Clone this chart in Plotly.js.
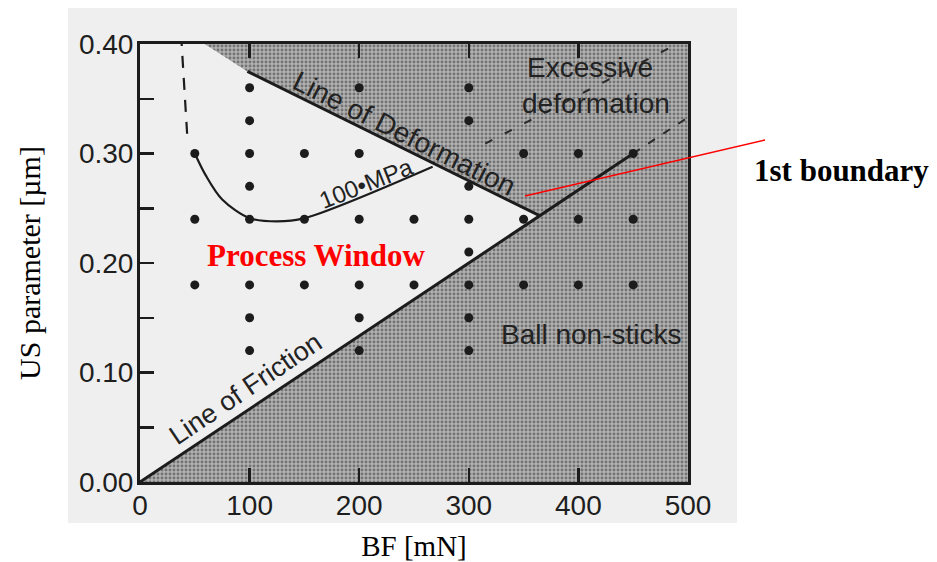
<!DOCTYPE html>
<html>
<head>
<meta charset="utf-8">
<script src="https://cdn.plot.ly/plotly-3.0.1.min.js"></script>
<style>
  html, body { margin: 0; padding: 0; background: #ffffff; }
  #chart { width: 937px; height: 562px; }
</style>
</head>
<body>
<div id="chart"></div>
<script>
// Bonding force (BF) vs. ultrasonic (US) parameter process map

// Measured test conditions (grid of bonding trials)
const dotBF = [100, 200, 300,
               100, 300,
               50, 100, 150, 200, 350, 400, 450,
               100, 300,
               50, 100, 150, 200, 250, 300, 350, 400, 450,
               300,
               50, 100, 150, 200, 250, 300, 350, 400, 450,
               100, 200, 300,
               100, 200, 300];
const dotUS = [0.36, 0.36, 0.36,
               0.33, 0.33,
               0.30, 0.30, 0.30, 0.30, 0.30, 0.30, 0.30,
               0.27, 0.27,
               0.24, 0.24, 0.24, 0.24, 0.24, 0.24, 0.24, 0.24, 0.24,
               0.21,
               0.18, 0.18, 0.18, 0.18, 0.18, 0.18, 0.18, 0.18, 0.18,
               0.15, 0.15, 0.15,
               0.12, 0.12, 0.12];

// Region outside the process window (excessive deformation + ball non-sticks)
const outsideBF = [0, 500, 500, 59, 98, 365, 0];
const outsideUS = [0, 0, 0.40, 0.40, 0.375, 0.243, 0];

// Boundary lines
const frictionBF = [0, 450];
const frictionUS = [0, 0.30];
const frictionExtBF = [450, 500];
const frictionExtUS = [0.30, 0.333];
const deformBF = [98, 365];
const deformUS = [0.375, 0.243];
const deformUpperBF = [315, 490];
const deformUpperUS = [0.309, 0.40];

// 100 MPa contact pressure contour
const mpaBF = [50, 60, 75, 100, 125, 150, 267];
const mpaUS = [0.300, 0.280, 0.258, 0.241, 0.238, 0.241, 0.288];
const mpaDashBF = [43, 38];
const mpaDashUS = [0.318, 0.40];

// Axis ticks
const xTicks = [0, 100, 200, 300, 400, 500];
const xTickText = ['0', '100', '200', '300', '400', '500'];
const yTicks = [0, 0.1, 0.2, 0.3, 0.4];
const yTickText = ['0.00', '0.10', '0.20', '0.30', '0.40'];

const sans = 'Liberation Sans, Arial, sans-serif';
const serif = 'Liberation Serif, Times New Roman, serif';
const ink = '#1c1c1c';

const traces = [
  {
    x: outsideBF, y: outsideUS, type: 'scatter', mode: 'none',
    fill: 'toself', fillcolor: '#a6a6a6',
    fillpattern: { shape: '.', size: 4, solidity: 0.42, fgcolor: '#737373', bgcolor: '#b2b2b2' },
    hoverinfo: 'skip', showlegend: false
  },
  { x: frictionBF, y: frictionUS, type: 'scatter', mode: 'lines',
    line: { color: ink, width: 3 }, showlegend: false },
  { x: frictionExtBF, y: frictionExtUS, type: 'scatter', mode: 'lines',
    line: { color: '#2a2a2a', width: 2, dash: '8px,10px' }, showlegend: false },
  { x: deformBF, y: deformUS, type: 'scatter', mode: 'lines',
    line: { color: ink, width: 3 }, showlegend: false },
  { x: deformUpperBF, y: deformUpperUS, type: 'scatter', mode: 'lines',
    line: { color: '#2a2a2a', width: 2, dash: '8px,14px' }, showlegend: false },
  { x: mpaBF, y: mpaUS, type: 'scatter', mode: 'lines',
    line: { color: ink, width: 2.2, shape: 'spline', smoothing: 0.9 }, showlegend: false },
  { x: mpaDashBF, y: mpaDashUS, type: 'scatter', mode: 'lines',
    line: { color: ink, width: 2.2, dash: '12px,10px' }, showlegend: false },
  { x: dotBF, y: dotUS, type: 'scatter', mode: 'markers',
    marker: { color: ink, size: 9 }, showlegend: false }
];

const layout = {
  width: 937, height: 562,
  margin: { l: 140, r: 249, t: 44, b: 80 },
  paper_bgcolor: '#ffffff',
  plot_bgcolor: '#efefef',
  showlegend: false,
  xaxis: {
    range: [0, 500], tickvals: xTicks, ticktext: xTickText,
    ticks: 'inside', ticklen: 14, tickwidth: 2.5, tickcolor: ink,
    showline: true, linewidth: 3, linecolor: ink, mirror: 'ticks',
    showgrid: false, zeroline: false, ticklabelstandoff: -4,
    tickfont: { family: sans, size: 28, color: '#1e1e1e' },
    title: { text: 'BF [mN]', font: { family: serif, size: 29, color: '#000' }, standoff: 22 }
  },
  yaxis: {
    range: [0, 0.40], tickvals: yTicks, ticktext: yTickText,
    ticks: 'inside', ticklen: 14, tickwidth: 2.5, tickcolor: ink,
    minor: { dtick: 0.05, ticks: 'inside', ticklen: 14, tickwidth: 2.5, tickcolor: ink, showgrid: false },
    showline: true, linewidth: 3, linecolor: ink, mirror: true,
    showgrid: false, zeroline: false, ticklabelstandoff: -2,
    tickfont: { family: sans, size: 28, color: '#1e1e1e' },
    title: { text: 'US parameter [µm]', font: { family: serif, size: 30, color: '#000' }, standoff: 30 }
  },
  shapes: [
    // scanned page backdrop
    { type: 'rect', xref: 'paper', yref: 'paper', x0: -0.1314, x1: 1.0894, y0: -0.0936, y1: 1.0822,
      fillcolor: '#efefef', line: { width: 0 }, layer: 'below' },
    // pointer to the first boundary
    { type: 'line', xref: 'paper', yref: 'paper', x0: 0.7026, y0: 0.653, x1: 1.1405, y1: 0.781,
      line: { color: '#ff0000', width: 1.5 } }
  ],
  annotations: [
    { x: 410.6, y: 0.379, text: 'Excessive', showarrow: false,
      font: { family: sans, size: 28, color: '#222' } },
    { x: 416, y: 0.346, text: 'deformation', showarrow: false,
      font: { family: sans, size: 28, color: '#222' } },
    { x: 411.5, y: 0.135, text: 'Ball non-sticks', showarrow: false,
      font: { family: sans, size: 28, color: '#222' } },
    { x: 96, y: 0.085, text: 'Line of Friction', showarrow: false, textangle: -34,
      font: { family: sans, size: 27, color: '#222' } },
    { x: 241, y: 0.318, text: 'Line of Deformation', showarrow: false, textangle: 26.5,
      font: { family: sans, size: 28, color: '#222' } },
    { x: 206, y: 0.2725, text: '100•MPa', showarrow: false, textangle: -21.6,
      font: { family: sans, size: 24, color: '#222' } },
    { x: 160.6, y: 0.2073, text: '<b>Process Window</b>', showarrow: false,
      font: { family: serif, size: 31, color: '#ff0000' } },
    { xref: 'paper', yref: 'paper', x: 1.1175, y: 0.712, xanchor: 'left', yanchor: 'middle',
      text: '<b>1st boundary</b>', showarrow: false,
      font: { family: serif, size: 31, color: '#000' } }
  ]
};

Plotly.newPlot('chart', traces, layout, { displayModeBar: false, staticPlot: true });
</script>
</body>
</html>
